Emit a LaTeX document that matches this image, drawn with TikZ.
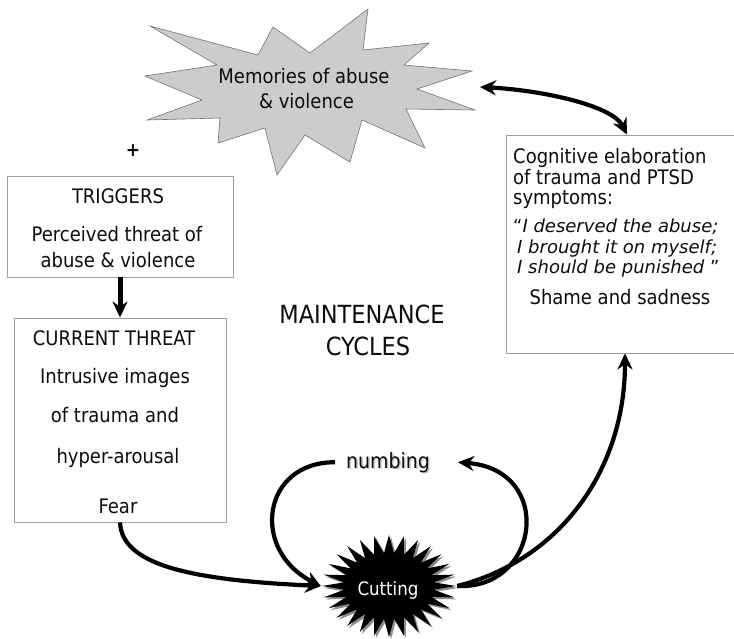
\documentclass[tikz,border=0pt]{standalone}
\usepackage{fontspec}
\setmainfont{DejaVu Sans Condensed}
\newfontfamily\quotefont{DejaVu Sans}
\usetikzlibrary{arrows.meta}
\definecolor{boxgray}{gray}{0.62}
\definecolor{stargray}{gray}{0.80}
\definecolor{staredge}{gray}{0.45}
\definecolor{shadowgray}{gray}{0.55}
\definecolor{txtcol}{gray}{0.05}
\begin{document}
\begin{tikzpicture}[x=1pt,y=-1pt,
  box/.style={draw=boxgray, line width=0.9pt, fill=white, inner sep=0pt},
  txt/.style={font=\fontsize{20}{24}\selectfont, text=txtcol, anchor=base, inner sep=0pt},
  ltxt/.style={txt, anchor=base west},
  itxt/.style={ltxt, font=\fontsize{18}{22}\selectfont\quotefont\itshape},
  bigtxt/.style={txt, font=\fontsize{25}{30}\selectfont},
  arr/.style={line width=4.2pt, -{Stealth[length=16pt,width=15pt]}},
  darr/.style={line width=4.2pt, {Stealth[length=16pt,width=15pt]}-{Stealth[length=16pt,width=15pt]}}
]
\useasboundingbox (0,0) rectangle (734,638);

% memories star
\filldraw[fill=stargray, draw=staredge, line width=0.6pt]
  (150,26) -- (258,55) -- (273,27) -- (310,53) -- (368,9) -- (363,50) -- (429,43)
  -- (404,65) -- (472,71) -- (417,89) -- (475,110) -- (406,109) -- (425,148)
  -- (362,120) -- (350,162) -- (305,135) -- (277,175) -- (265,128) -- (218,143)
  -- (220,118) -- (147,120) -- (202,100) -- (145,76) -- (217,65) -- cycle;
\node[txt] (mem1) at (304,83) {Memories of abuse};
\node[txt] (mem2) at (306.5,108) {\& violence};
\coordinate (memtip) at (480,87);

\node[txt, font=\fontsize{19}{22}\selectfont\bfseries, anchor=center] (plus) at (133,151) {+};

% triggers box
\node[box, minimum width=226pt, minimum height=101pt] (trig) at (120,226.5) {};
\node[txt] (t1) at (118,203) {TRIGGERS};
\node[txt] (t2) at (117,241) {Perceived threat of};
\node[txt] (t3) at (118,267) {abuse \& violence};

% current threat box
\node[box, minimum width=212pt, minimum height=204pt] (cur) at (120,420) {};
\node[txt] (c1) at (114,345) {CURRENT THREAT};
\node[txt] (c2) at (115,383) {Intrusive images};
\node[txt] (c3) at (115,422) {of trauma and};
\node[txt] (c4) at (118,463) {hyper-arousal};
\node[txt] (c5) at (118,513) {Fear};

% cognitive box
\node[box, minimum width=234pt, minimum height=218pt] (cog) at (623,244) {};
\node[ltxt] (g1) at (513,163) {Cognitive elaboration};
\node[ltxt] (g2) at (513,184) {of trauma and PTSD};
\node[ltxt] (g3) at (513,204) {symptoms:};
\node[itxt] (g4) at (513,232) {{\upshape “}I deserved the abuse;};
\node[itxt] (g5) at (517,253) {I brought it on myself;};
\node[itxt] (g6) at (517,273) {I should be punished {\upshape ”}};
\node[txt] (g7) at (620,304) {Shame and sadness};

% maintenance cycles
\node[bigtxt] (m1) at (362,323) {MAINTENANCE};
\node[bigtxt] (m2) at (368,355) {CYCLES};

% numbing
\node[txt, font=\fontsize{21}{25}\selectfont, text=gray!45] (numbsh) at (389.5,469.5) {numbing};
\node[txt, font=\fontsize{21}{25}\selectfont] (numb) at (388,468) {numbing};

% cutting star
\fill[shadowgray, shift={(391,588)}]
  plot[samples=57, domain=0:360, variable=\t]
  ({(56+11*cos(28*\t))*cos(\t)}, {(42+9*cos(28*\t))*sin(\t)}) -- cycle;
\fill[black, shift={(389,586)}]
  plot[samples=57, domain=0:360, variable=\t]
  ({(56+11*cos(28*\t))*cos(\t)}, {(42+9*cos(28*\t))*sin(\t)}) -- cycle;
\node[minimum width=136pt, minimum height=100pt, inner sep=0pt] (cut) at (389,586) {};
\node[txt, text=white, font=\fontsize{18.5}{22}\selectfont] (cuttxt) at (388,595) {Cutting};

% connectors
\draw[arr, line width=5pt] (trig.south) -- (cur.north);
\draw[darr] (memtip) .. controls (540,90) and (612,105) .. ([xshift=4pt]cog.north);
\draw[arr] (cur.south) .. controls (122,565) and (190,580) .. (cut.west);
\draw[arr] ([xshift=-11pt]numb.west) .. controls (262,462) and (250,550) .. (cut.west);
\draw[arr] (cut.east) .. controls (540,590) and (555,470) .. ([xshift=28pt]numb.east);
\draw[arr] (cut.east) .. controls (560,560) and (625,470) .. ([xshift=2pt]cog.south);
\end{tikzpicture}
\end{document}
